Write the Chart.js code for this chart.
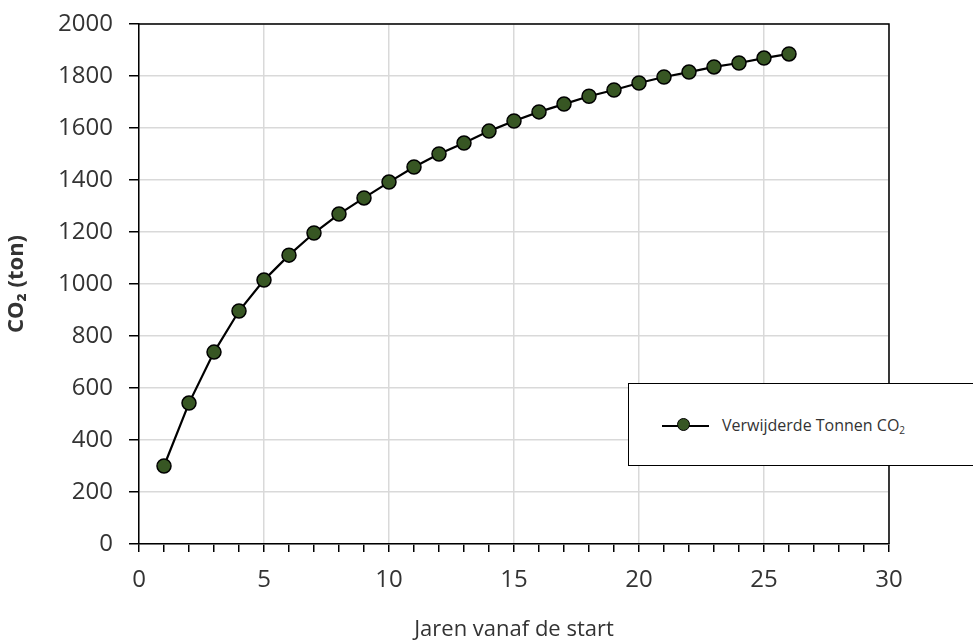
<!DOCTYPE html>
<html>
<head>
<meta charset="utf-8">
<script src="https://cdn.jsdelivr.net/npm/chart.js@4/dist/chart.umd.min.js"></script>
<style>
  html, body { margin: 0; padding: 0; background: #fff; }
  #wrap { position: relative; width: 973px; height: 643px; overflow: hidden; }
  #legend {
    position: absolute; left: 628px; top: 383px; width: 360px; height: 83px;
    border: 1.5px solid #000; background: #fff; box-sizing: border-box;
    font-family: 'Open Sans', sans-serif; font-size: 16px; color: #333;
  }
  #legend .line { position: absolute; left: 33px; top: 41px; width: 47px; height: 2px; background: #000; }
  #legend .dot {
    position: absolute; left: 48px; top: 34px; width: 13px; height: 13px; border-radius: 50%;
    background: #375623; border: 1.5px solid #000; box-sizing: border-box;
  }
  #legend .txt { position: absolute; left: 93px; top: 30px; white-space: nowrap; }
  #legend sub { font-size: 10px; vertical-align: -3px; }
</style>
</head>
<body>
<div id="wrap">
  <canvas id="chart" width="973" height="643"></canvas>
  <div id="legend">
    <div class="line"></div><div class="dot"></div>
    <div class="txt">Verwijderde Tonnen CO<sub>2</sub></div>
  </div>
</div>
<script>
// Jaren vanaf de start
const years = [1, 2, 3, 4, 5, 6, 7, 8, 9, 10, 11, 12, 13, 14, 15, 16, 17, 18, 19, 20, 21, 22, 23, 24, 25, 26];
// Verwijderde Tonnen CO2
const removedCO2 = [300, 542, 738, 896, 1015, 1111, 1196, 1269, 1331, 1392, 1450, 1500, 1542, 1588, 1627,
  1662, 1692, 1722, 1746, 1773, 1796, 1815, 1835, 1850, 1869, 1885];

const xTicks = [0, 5, 10, 15, 20, 25, 30];
const yTicks = [0, 200, 400, 600, 800, 1000, 1200, 1400, 1600, 1800, 2000];

const FONT = "'Open Sans', sans-serif";

// frame on top and right of the plot area
const framePlugin = {
  id: 'frame',
  afterDraw(chart) {
    const { ctx, chartArea: a } = chart;
    ctx.save();
    ctx.strokeStyle = '#000';
    ctx.lineWidth = 1.5;
    ctx.beginPath();
    ctx.moveTo(a.left, a.top);
    ctx.lineTo(a.right, a.top);
    ctx.lineTo(a.right, a.bottom);
    ctx.stroke();
    ctx.restore();
  }
};

new Chart(document.getElementById('chart'), {
  type: 'line',
  data: {
    datasets: [{
      label: 'Verwijderde Tonnen CO₂',
      data: years.map((y, i) => ({ x: y, y: removedCO2[i] })),
      borderColor: '#000',
      borderWidth: 2.2,
      pointBackgroundColor: '#375623',
      pointBorderColor: '#000',
      pointBorderWidth: 1.5,
      pointRadius: 7,
      tension: 0
    }]
  },
  options: {
    responsive: false,
    animation: false,
    layout: { padding: { top: 24, right: 84 } },
    plugins: { legend: { display: false }, tooltip: { enabled: false } },
    scales: {
      x: {
        type: 'linear',
        min: 0,
        max: 30,
        afterBuildTicks: (s) => {
          const minor = [];
          for (let v = 0; v <= 30; v++) minor.push({ value: v });
          s.ticks = minor;
        },
        afterFit: (s) => { s.height = 99; },
        ticks: {
          autoSkip: false,
          maxRotation: 0,
          padding: 14,
          color: '#333',
          font: { family: FONT, size: 24 },
          callback: (v) => xTicks.includes(v) ? String(v) : ''
        },
        grid: {
          color: (c) => xTicks.includes(c.tick && c.tick.value) ? '#d9d9d9' : 'rgba(0,0,0,0)',
          tickColor: '#000',
          tickLength: 8,
          lineWidth: 1.5
        },
        border: { color: '#000', width: 1.5 },
        title: {
          display: true,
          text: 'Jaren vanaf de start',
          color: '#333',
          font: { family: FONT, size: 22 },
          padding: { top: 0, bottom: 0 }
        }
      },
      y: {
        min: 0,
        max: 2000,
        afterBuildTicks: (s) => { s.ticks = yTicks.map(v => ({ value: v })); },
        afterFit: (s) => { s.width = 139; s.paddingTop = 0; s.paddingBottom = 0; },
        ticks: {
          padding: 16,
          color: '#333',
          font: { family: FONT, size: 24 },
          callback: (v) => String(v)
        },
        grid: {
          color: '#d9d9d9',
          tickColor: '#000',
          tickLength: 10,
          lineWidth: 1.5
        },
        border: { color: '#000', width: 1.5 },
        title: {
          display: true,
          text: 'CO₂ (ton)',
          color: '#333',
          font: { family: FONT, size: 22, weight: 'bold' },
          padding: { top: 4, bottom: 0 }
        }
      }
    }
  },
  plugins: [framePlugin]
});
</script>
</body>
</html>
